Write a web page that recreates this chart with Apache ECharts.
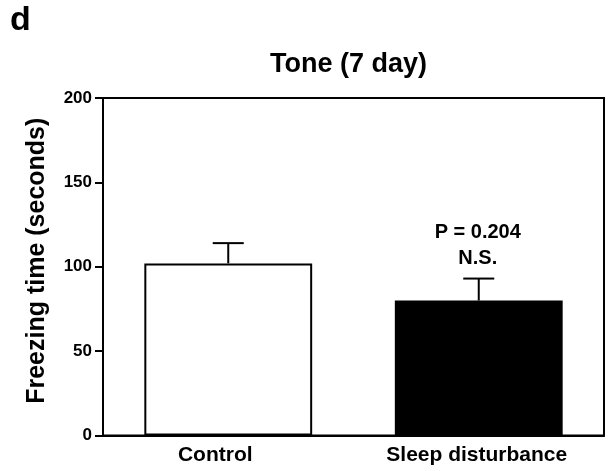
<!DOCTYPE html>
<html>
<head>
<meta charset="utf-8">
<script src="https://cdn.jsdelivr.net/npm/echarts@6/dist/echarts.min.js"></script>
<style>html,body{margin:0;padding:0;background:#fff}#c{width:612px;height:471px}</style>
</head>
<body>
<div id="c"></div>
<script>
var categories = ['Control', 'Sleep disturbance'];
var means = [102, 80];
var errors = [12, 13];
var annotations = ['', 'P = 0.204\nN.S.'];
var yTicks = [0, 50, 100, 150, 200];
var barColors = ['#ffffff', '#000000'];

var FONT = '"Liberation Sans", Arial, Helvetica, sans-serif';
var chart = echarts.init(document.getElementById('c'), null, {renderer: 'canvas'});

var option = {
  backgroundColor: '#fff',
  animation: false,
  title: [
    {text: 'd', left: 5, top: -1, textStyle: {fontFamily: FONT, fontWeight: 'bold', fontSize: 34, color: '#000'}},
    {text: 'Tone (7 day)', left: 265, top: 46, textStyle: {fontFamily: FONT, fontWeight: 'bold', fontSize: 27, color: '#000'}}
  ],
  grid: {left: 103, right: 8, top: 98, bottom: 35.5, show: true, borderColor: '#000', borderWidth: 2, backgroundColor: 'transparent'},
  xAxis: {
    type: 'category',
    data: categories,
    axisLine: {lineStyle: {color: '#000', width: 2}},
    axisTick: {show: false},
    axisLabel: {
      interval: 0,
      hideOverlap: false,
      color: '#000', fontFamily: FONT, fontWeight: 'bold', fontSize: 21, margin: 9,
      formatter: function (v, i) { return i === 0 ? '{a|' + v + '}' : '{b|' + v + '}'; },
      rich: {
        a: {color: '#000', fontFamily: FONT, fontWeight: 'bold', fontSize: 21, padding: [0, 26, 0, 0]},
        b: {color: '#000', fontFamily: FONT, fontWeight: 'bold', fontSize: 21, padding: [0, 4, 0, 0]}
      }
    }
  },
  yAxis: {
    type: 'value',
    min: yTicks[0],
    max: yTicks[yTicks.length - 1],
    interval: yTicks[1] - yTicks[0],
    name: 'Freezing time (seconds)',
    nameLocation: 'middle',
    nameGap: 53,
    nameTextStyle: {color: '#000', fontFamily: FONT, fontWeight: 'bold', fontSize: 25, padding: [0, 0, 0, 12]},
    splitLine: {show: false},
    axisLine: {show: true, lineStyle: {color: '#000', width: 2}},
    axisTick: {show: true, length: 8, lineStyle: {color: '#000', width: 2}},
    axisLabel: {color: '#000', fontFamily: FONT, fontWeight: 'bold', fontSize: 17, margin: 11}
  },
  series: [
    {
      type: 'bar',
      barCategoryGap: '33%',
      data: means.map(function (v, i) {
        return {value: v, itemStyle: {color: barColors[i], borderColor: '#000', borderWidth: 2}};
      }),
      z: 2
    },
    {
      type: 'custom',
      z: 3,
      data: means.map(function (v, i) { return [i, v, v + errors[i]]; }),
      renderItem: function (params, api) {
        var i = api.value(0);
        var base = api.coord([i, api.value(1)]);
        var top = api.coord([i, api.value(2)]);
        var half = 15.5;
        var children = [
          {type: 'line', shape: {x1: base[0], y1: base[1], x2: top[0], y2: top[1]}, style: {stroke: '#000', lineWidth: 2}},
          {type: 'line', shape: {x1: top[0] - half, y1: top[1], x2: top[0] + half, y2: top[1]}, style: {stroke: '#000', lineWidth: 2}}
        ];
        var ann = annotations[params.dataIndex];
        if (ann) {
          children.push({type: 'text', style: {text: ann, x: top[0] - 1, y: top[1] - 7, align: 'center', verticalAlign: 'bottom', fill: '#000', font: 'bold 20px ' + FONT, lineHeight: 26}});
        }
        return {type: 'group', children: children};
      }
    }
  ]
};
chart.setOption(option);
</script>
</body>
</html>
